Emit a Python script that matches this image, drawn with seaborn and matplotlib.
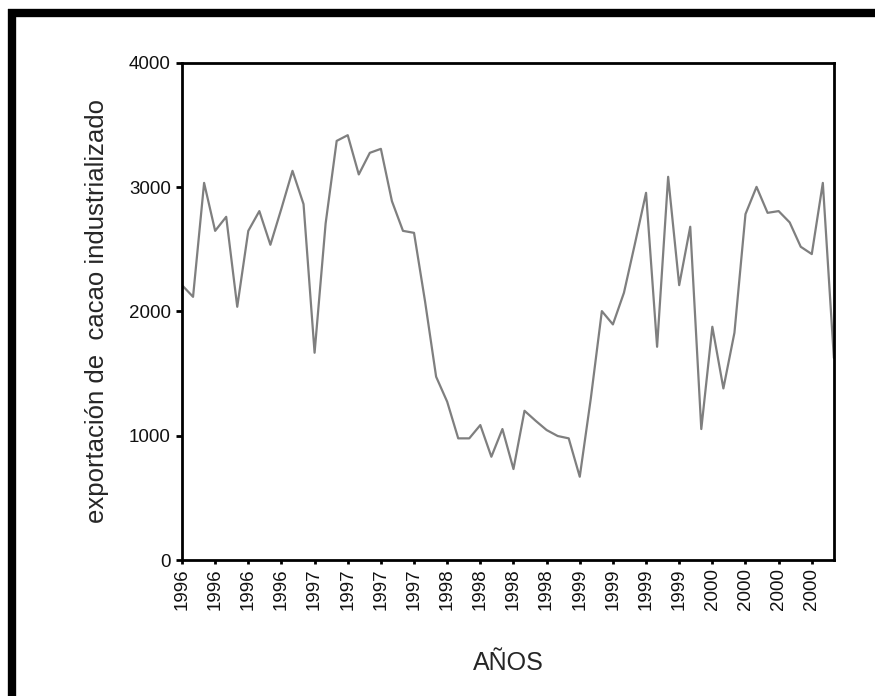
import matplotlib
matplotlib.use("Agg")
import matplotlib.pyplot as plt
import seaborn as sns
import pandas as pd
from matplotlib.lines import Line2D

# Monthly exports, Jan 1996 - Dec 2000
months = list(range(60))
exports = [2212, 2118, 3035, 2649, 2762, 2038, 2649, 2808, 2537, 2829,
           3132, 2864, 1668, 2709, 3373, 3419, 3103, 3277, 3309, 2888,
           2649, 2633, 2080, 1475, 1274, 979, 979, 1086, 831, 1054,
           732, 1201, 1121, 1046, 998, 979, 670, 1300, 2003, 1896,
           2151, 2548, 2955, 1716, 3084, 2212, 2682, 1054, 1877, 1381,
           1829, 2784, 3003, 2794, 2808, 2717, 2521, 2462, 3035, 1626]
tick_years = ["1996"] * 4 + ["1997"] * 4 + ["1998"] * 4 + ["1999"] * 4 + ["2000"] * 4
y_ticks = [0, 1000, 2000, 3000, 4000]

sns.set_theme(style="white")
plt.rcParams['font.family'] = ['Liberation Sans', 'DejaVu Sans']

df = pd.DataFrame({"mes": months, "exportacion": exports})

fig = plt.figure(figsize=(8.75, 6.96), dpi=100)
ax = fig.add_axes([0.208, 0.1954, 0.745, 0.7141])

sns.lineplot(data=df, x="mes", y="exportacion", ax=ax, color="#7f7f7f", linewidth=1.6)

ax.set_xlim(0, 59)
ax.set_ylim(0, 4000)
ax.set_yticks(y_ticks)
ax.set_yticklabels([str(v) for v in y_ticks], fontsize=13.5)
ax.set_xticks(months[::3])
ax.set_xticklabels(tick_years, rotation=90, fontsize=13.5)

for s in ax.spines.values():
    s.set_color("black")
    s.set_linewidth(2)
ax.tick_params(axis="both", direction="out", length=4, width=2, color="black",
               left=True, bottom=True, pad=4, labelcolor="#111111")
ax.tick_params(axis="x", length=3, pad=3)

ax.set_xlabel("AÑOS", fontsize=18, labelpad=29)
ax.set_ylabel("exportación de  cacao industrializado", fontsize=18.5, labelpad=14)

# outer frame (top and left thick bars)
W, H = 875, 696
fig.add_artist(Line2D([12 / W, 12 / W], [0, 1 - 9 / H], transform=fig.transFigure,
                      color="black", linewidth=6, solid_capstyle="butt"))
fig.add_artist(Line2D([8 / W, 1], [1 - 13 / H, 1 - 13 / H], transform=fig.transFigure,
                      color="black", linewidth=6, solid_capstyle="butt"))

fig.savefig("out.png", dpi=100)
